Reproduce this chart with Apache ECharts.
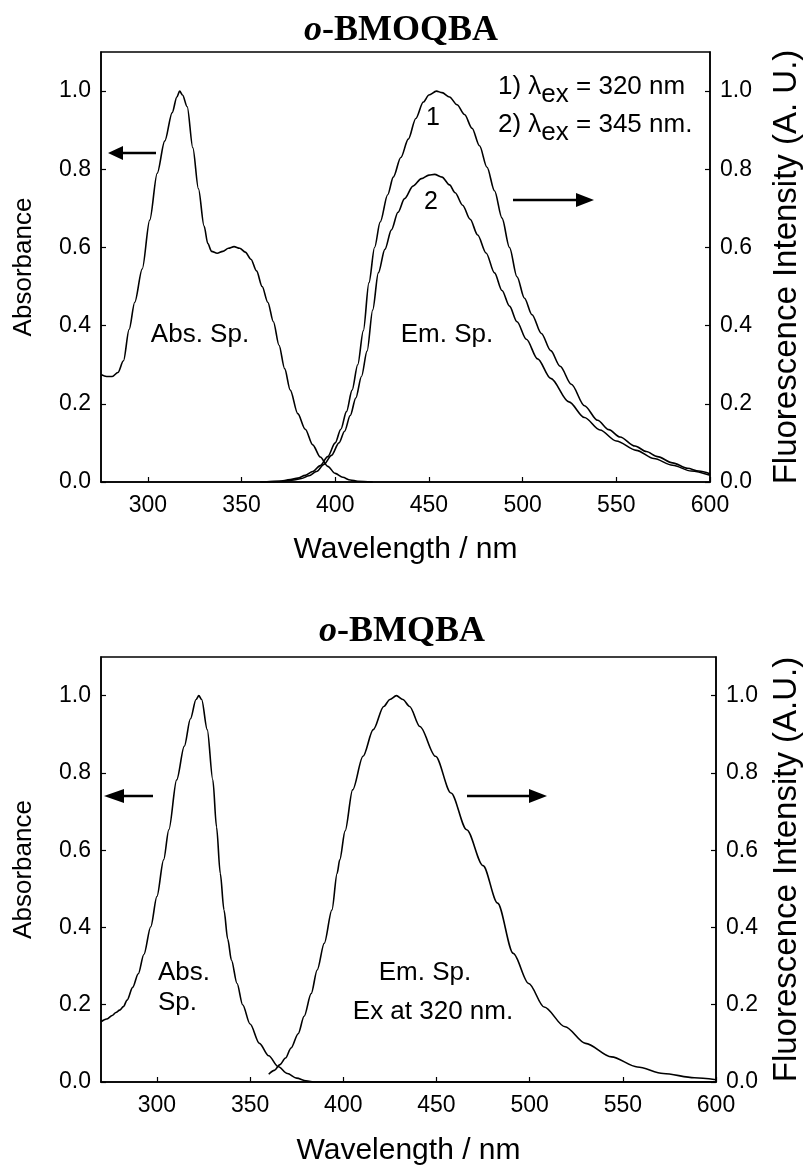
<!DOCTYPE html>
<html>
<head>
<meta charset="utf-8">
<script src="https://cdn.jsdelivr.net/npm/echarts@6/dist/echarts.min.js"></script>
<style>
html,body{margin:0;padding:0;background:#fff;}
#c{width:811px;height:1171px;}
</style>
</head>
<body>
<div id="c"></div>
<script>
// ---------- DATA ----------
// Top panel: o-BMOQBA
const topAbsWl  = [275,278,281,284,287,290,293,297,301,305,309,313,315.5,317,318.5,321,324,327,330,332,334,337,340,343,346,349,352,355,358,361,364,367,370,373,376,380,384,388,392,396,400,404,408,412,420];
const topAbsVal = [0.275,0.27,0.27,0.28,0.31,0.39,0.46,0.545,0.67,0.79,0.872,0.945,0.985,1.0,0.99,0.96,0.855,0.75,0.655,0.61,0.59,0.585,0.59,0.598,0.602,0.598,0.588,0.57,0.54,0.5,0.46,0.41,0.35,0.29,0.235,0.175,0.135,0.095,0.064,0.04,0.022,0.012,0.005,0.002,0];

const topEm1Wl  = [360,370,376,380,384,388,392,396,400,403,406,409,412,415,418,421,424,428,431,435,439,443,447,450,454,457,461,465,469,473,477,481,485,489,493,497,501,505,510,515,520,526,533,540,546,552,560,566,572,580,588,594,600];
const topEm1Val = [0,0.002,0.006,0.01,0.017,0.027,0.042,0.065,0.1,0.135,0.18,0.235,0.3,0.387,0.51,0.6,0.665,0.735,0.78,0.83,0.877,0.93,0.972,0.99,1.0,0.996,0.985,0.965,0.94,0.905,0.86,0.805,0.745,0.675,0.6,0.525,0.47,0.428,0.38,0.336,0.296,0.25,0.195,0.158,0.134,0.115,0.092,0.078,0.065,0.049,0.035,0.028,0.021];

const topEm2Wl  = [360,372,378,382,386,390,394,398,402,405,408,411,414,417,420,423,426.5,430,433.5,437,441.5,446,450,453,457,461,464,468,472,476,480.5,485,489,493,497,502,508,515,524.7,533,541.3,550,560.7,570,580,590,600];
const topEm2Val = [0,0.002,0.005,0.009,0.016,0.027,0.045,0.068,0.1,0.13,0.17,0.215,0.27,0.335,0.44,0.535,0.595,0.645,0.69,0.725,0.757,0.776,0.785,0.787,0.78,0.76,0.74,0.708,0.672,0.632,0.586,0.535,0.49,0.45,0.41,0.365,0.315,0.265,0.205,0.165,0.133,0.105,0.081,0.06,0.043,0.028,0.017];

// Bottom panel: o-BMQBA
const botAbsWl  = [270,273,276,278,280,282,284,287,290,293,296.7,300,303.6,306.4,310.6,314.7,318,321,322.5,324,327,330,332,334,336,338,340,343,346,350,355,360,365,370,375,380,385,600];
const botAbsVal = [0.156,0.163,0.172,0.18,0.186,0.195,0.212,0.245,0.28,0.33,0.402,0.48,0.575,0.653,0.782,0.869,0.94,0.99,1.0,0.99,0.912,0.782,0.66,0.54,0.445,0.37,0.315,0.255,0.2,0.15,0.1,0.068,0.04,0.022,0.01,0.003,0,0];

const botEmWl  = [360,363,366,369,372,375.8,379,382.8,386,389.8,393.9,396.7,398.1,401,405,410.6,416.1,421.7,425,428.5,432,435.6,441.1,449.5,457.8,466.2,475,482.8,491.2,499.5,507.8,519,530,543.9,557.8,571.7,588.4,600];
const botEmVal = [0.02,0.03,0.045,0.062,0.088,0.125,0.17,0.229,0.29,0.359,0.445,0.54,0.575,0.65,0.756,0.843,0.912,0.972,0.99,1.0,0.99,0.972,0.92,0.843,0.748,0.653,0.56,0.463,0.333,0.255,0.194,0.143,0.1,0.065,0.039,0.022,0.011,0.006];

// Axis settings
const xMinTop = 275, xMinBot = 270, xMax = 600;
const yMin = 0, yMax = 1.1, yStep = 0.2;
const titles = ['o-BMOQBA', 'o-BMQBA'];

// ---------- CHART ----------
const zip = (a, b) => a.map((v, i) => [v, b[i]]);
const SANS = '"Liberation Sans", Arial, sans-serif';
const SERIF = '"Liberation Serif", "Times New Roman", serif';

function xAx(grid, min, gap) {
  return {
    type: 'value', gridIndex: grid, min: min, max: xMax,
    minInterval: 50, maxInterval: 50,
    name: 'Wavelength / nm', nameLocation: 'middle', nameGap: gap,
    nameTextStyle: {fontFamily: SANS, fontSize: 30, color: '#000'},
    axisLine: {show: true, onZero: false, lineStyle: {color: '#000', width: 1.5}},
    axisTick: {show: true, inside: true, length: 5, lineStyle: {color: '#000', width: 1.2}},
    axisLabel: {fontFamily: SANS, fontSize: 23, color: '#000', margin: 12, showMinLabel: false,
      formatter: v => String(Math.round(v))},
    splitLine: {show: false}
  };
}
function yAx(grid, pos, name, size, gap) {
  return {
    type: 'value', gridIndex: grid, position: pos, min: yMin, max: yMax, interval: yStep,
    name: name, nameLocation: 'middle', nameGap: gap,
    nameTextStyle: {fontFamily: SANS, fontSize: size, color: '#000'},
    axisLine: {show: true, onZero: false, lineStyle: {color: '#000', width: 1.5}},
    axisTick: {show: true, inside: true, length: 5, lineStyle: {color: '#000', width: 1.2}},
    axisLabel: {fontFamily: SANS, fontSize: 23, color: '#000', margin: 10, showMaxLabel: false,
      formatter: v => v.toFixed(1)},
    splitLine: {show: false}
  };
}
function ln(name, x, y, xi, yi) {
  return {
    name: name, type: 'line', xAxisIndex: xi, yAxisIndex: yi,
    data: zip(x, y), showSymbol: false, smooth: 0.3, smoothMonotone: 'x',
    lineStyle: {color: '#000', width: 1.6}, silent: true, animation: false
  };
}
function txt(x, y, text, size, align) {
  return {
    type: 'text', x: x, y: y, silent: true,
    style: {text: text, font: size + 'px ' + SANS, fill: '#000',
      align: align || 'center', verticalAlign: 'middle',
      textAlign: align || 'center', textVerticalAlign: 'middle'}
  };
}
function subTxt(x, y, text, size) {
  return {
    type: 'text', x: x, y: y, silent: true,
    style: {text: text, font: size + 'px ' + SANS, fill: '#000',
      align: 'left', verticalAlign: 'middle', textAlign: 'left', textVerticalAlign: 'middle',
      rich: {s: {fontFamily: SANS, fontSize: size, padding: [16, 0, 0, 0]}}}
  };
}
function arrow(x1, x2, y, headX, dir) {
  const tip = dir < 0 ? x1 : x2;
  return [
    {type: 'line', silent: true, shape: {x1: dir < 0 ? headX : x1, y1: y, x2: dir < 0 ? x2 : headX, y2: y},
      style: {stroke: '#000', lineWidth: 2.5}},
    {type: 'polygon', silent: true, shape: {points: [[tip, y], [headX, y - 7], [headX, y + 7]]},
      style: {fill: '#000'}}
  ];
}

const titleStyle = (t) => ({
  text: '{i|' + t.slice(0, 1) + '}' + t.slice(1),
  textAlign: 'center',
  textStyle: {fontFamily: SERIF, fontWeight: 'bold', fontSize: 36, color: '#000',
    rich: {i: {fontFamily: SERIF, fontWeight: 'bold', fontStyle: 'italic', fontSize: 36, color: '#000'}}}
});

const chart = echarts.init(document.getElementById('c'), null, {renderer: 'canvas'});
chart.setOption({
  backgroundColor: '#fff',
  animation: false,
  title: [
    Object.assign({left: 396, top: 8}, titleStyle(titles[0])),
    Object.assign({left: 397, top: 609}, titleStyle(titles[1]))
  ],
  grid: [
    {left: 101, top: 52, width: 612, height: 430, show: true, borderColor: '#000', borderWidth: 1.5, backgroundColor: 'transparent'},
    {left: 101, top: 657, width: 618, height: 425, show: true, borderColor: '#000', borderWidth: 1.5, backgroundColor: 'transparent'}
  ],
  xAxis: [xAx(0, xMinTop, 53), xAx(1, xMinBot, 54)],
  yAxis: [
    yAx(0, 'left', 'Absorbance', 26, 64),
    yAx(0, 'right', 'Fluorescence Intensity (A. U.)', 33, 60),
    yAx(1, 'left', 'Absorbance', 26, 64),
    yAx(1, 'right', 'Fluorescence Intensity (A.U.)', 33, 54)
  ],
  series: [
    ln('Abs. Sp.', topAbsWl, topAbsVal, 0, 0),
    ln('Em 1 (λex = 320 nm)', topEm1Wl, topEm1Val, 0, 1),
    ln('Em 2 (λex = 345 nm)', topEm2Wl, topEm2Val, 0, 1),
    ln('Abs. Sp.', botAbsWl, botAbsVal, 1, 2),
    ln('Em. Sp.', botEmWl, botEmVal, 1, 3)
  ],
  graphic: [].concat(
    [
      txt(200, 335, 'Abs. Sp.', 26),
      txt(447, 335, 'Em. Sp.', 26),
      txt(433, 118, '1', 25),
      txt(431, 202, '2', 25),
      subTxt(498, 87, '1) λ{s|ex} = 320 nm', 26),
      subTxt(498, 125, '2) λ{s|ex} = 345 nm.', 26),
      txt(158, 973, 'Abs.', 26, 'left'),
      txt(158, 1003, 'Sp.', 26, 'left'),
      txt(425, 973, 'Em. Sp.', 26),
      txt(433, 1012, 'Ex at 320 nm.', 26)
    ],
    arrow(108, 156, 153, 123, -1),
    arrow(513, 594, 200, 576, 1),
    arrow(104, 153, 796, 124, -1),
    arrow(467, 547, 796, 529, 1)
  )
});
</script>
</body>
</html>
